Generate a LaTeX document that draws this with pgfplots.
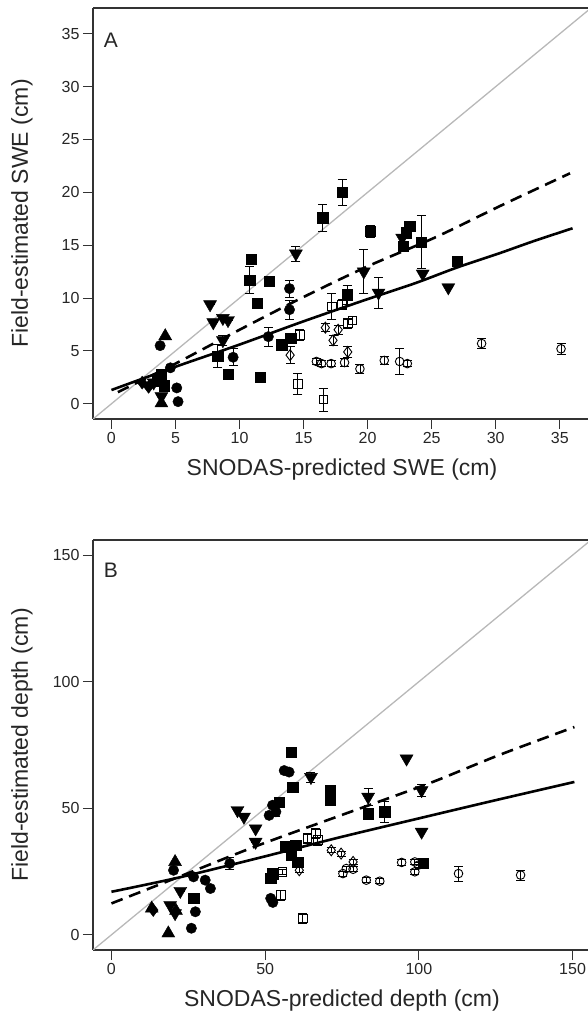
\documentclass[border=0pt]{standalone}
\usepackage{fontspec}
\setmainfont{Liberation Sans}
\usepackage{pgfplots}
\pgfplotsset{compat=1.18}
\usepackage{pgfplotstable}

% ---------- Panel A data ----------
\pgfplotstableread{
x y e
10.9 13.7 0
10.8 11.7 1.3
11.4 9.5 0.4
12.3 11.6 0
11.6 2.5 0
9.1 2.8 0
8.3 4.5 1.1
13.3 5.6 0
14.0 6.2 0
16.5 17.6 1.3
18.0 20.0 1.2
20.2 16.3 0.6
23.3 16.8 0
23.0 16.2 0
22.8 14.9 0.4
24.2 15.3 2.5
27.0 13.5 0
18.4 10.3 0.9
3.9 2.8 0
4.1 1.7 0
3.6 2.2 0
}\fsqA
\pgfplotstableread{
x y e
9.5 4.4 0.8
12.25 6.35 0.9
13.9 8.9 0.9
13.9 10.9 0.8
3.8 5.5 0
4.6 3.4 0
5.1 1.5 0
5.2 0.2 0
}\fciA
\pgfplotstableread{
x y e
7.7 9.4 0
7.95 7.7 0
8.7 8.1 0
9.1 7.9 0
8.7 6.0 0.5
14.4 14.2 0.7
22.7 15.7 0
19.7 12.5 2.1
20.85 10.5 1.5
24.3 12.3 0
26.3 11.0 0
3.9 0.7 0
3.3 2.0 0
}\ftdA
\pgfplotstableread{
x y e
4.2 6.4 0
3.9 0.05 0
3.7 2.4 0
}\ftuA
\pgfplotstableread{
x y e
2.4 2.0 0
2.9 1.6 0
}\fdiA
\pgfplotstableread{
x y e
17.2 9.2 1.2
18.0 9.4 0.5
18.45 7.6 0.5
18.8 7.9 0.4
14.7 6.5 0.5
14.55 1.9 1.0
16.55 0.4 1.1
}\osqA
\pgfplotstableread{
x y e
16.7 7.2 0.4
17.3 6.0 0.5
17.7 7.0 0.4
18.45 4.9 0.5
13.95 4.6 0.8
}\odiA
\pgfplotstableread{
x y e
16.0 4.0 0.3
16.4 3.8 0.3
17.15 3.8 0.3
18.2 3.9 0.4
19.4 3.3 0.4
21.3 4.1 0.4
22.5 4.0 1.2
23.1 3.8 0.3
28.9 5.7 0.5
35.1 5.2 0.5
}\ociA

% ---------- Panel B data ----------
\pgfplotstableread{
x y e
58.4 72.2 0
58.9 58.4 0
71.1 57.1 0
71.1 53.1 0
83.5 47.9 0
88.9 48.6 4.3
56.7 34.8 0
60.0 35.4 0
58.4 31.4 0
60.6 28.8 0
52.4 24.2 0
51.8 22.3 0
101.5 28.2 0
54.5 52.5 0
26.7 14.4 0
}\fsqB
\pgfplotstableread{
x y e
56.2 64.9 0
57.8 64.3 0
52.4 51.2 0
51.3 47.2 0
53.5 48.6 2
51.8 14.4 0
52.5 12.8 0
20.2 25.5 0
26.7 22.9 0
30.5 21.6 0
32.2 18.3 0
27.3 9.1 0
26.0 2.6 0
38.5 28.2 2.5
}\fciB
\pgfplotstableread{
x y e
64.9 62.3 2
96.0 69.6 0
100.9 57.1 2.5
100.9 40.7 0
83.5 54.5 3.5
41.0 49.2 0
43.1 46.6 0
46.9 42.0 0
46.9 36.7 0
22.4 17.3 0
19.1 11.7 0
20.7 8.5 0
}\ftdB
\pgfplotstableread{
x y e
20.7 28.8 0
18.5 0.6 0
21.0 9.5 0
13.1 10.4 0
}\ftuB
\pgfplotstableread{
x y e
13.6 9.8 0
}\fdiB
\pgfplotstableread{
x y e
55.6 24.9 1
55.1 15.7 2
62.2 6.5 2
63.8 38.0 2
66.5 40.0 2
67.1 37.4 2
}\osqB
\pgfplotstableread{
x y e
61.1 25.5 1
71.5 33.4 1
74.7 32.1 1
78.6 28.8 1
}\odiB
\pgfplotstableread{
x y e
76.4 26.2 1
75.3 24.2 1
78.6 25.9 1
82.9 21.6 1
87.3 21.2 1
94.4 28.6 1
98.7 28.8 1
98.7 24.9 1
99.8 27.5 1
112.9 24.2 3
133.1 23.6 2
}\ociB

\pgfplotsset{
  panel/.style={
    scale only axis, width=498pt,
    axis x line*=box, axis y line*=left,
    axis line style={line width=1.1pt, black!80, -},
    tick align=outside, major tick length=10pt,
    tick style={line width=1.1pt, black!80},
    xtick pos=bottom, ytick pos=left,
    ticklabel style={font=\fontsize{16}{18}\selectfont, text=black!85},
    /pgf/number format/assume math mode=true,
    label style={font=\fontsize{23}{26}\selectfont, text=black!85},
    xlabel style={at={(axis description cs:0.5,-0.124)}, anchor=center},
    ylabel style={at={(axis description cs:-0.1426,0.5)}, anchor=center},
  },
  eb/.style={
    /pgfplots/error bars/y dir=both,
    /pgfplots/error bars/y explicit,
    /pgfplots/error bars/error bar style={line width=0.8pt, black},
    /pgfplots/error bars/error mark options={line width=0.8pt, mark size=4.5pt, black, rotate=90},
  },
  fsq/.style={only marks, mark=square*, mark size=5.2pt, mark options={fill=black, draw=black}, eb},
  fci/.style={only marks, mark=*, mark size=5.2pt, mark options={fill=black, draw=black}, eb},
  ftd/.style={only marks, mark=triangle*, mark size=7.5pt, mark options={fill=black, draw=black, rotate=180}, eb},
  ftu/.style={only marks, mark=triangle*, mark size=7.5pt, mark options={fill=black, draw=black}, eb},
  fdi/.style={only marks, mark=diamond*, mark size=6.5pt, mark options={fill=black, draw=black}, eb},
  osq/.style={only marks, mark=square, mark size=4.3pt, mark options={draw=black, line width=0.9pt}, eb},
  odi/.style={only marks, mark=diamond, mark size=5.5pt, mark options={draw=black, line width=0.9pt}, eb},
  oci/.style={only marks, mark=o, mark size=4.3pt, mark options={draw=black, line width=0.9pt}, eb},
}

\begin{document}
\begin{tikzpicture}
% ================= Panel A =================
\begin{axis}[panel, at={(93pt,601pt)}, anchor=south west, height=411pt,
  xmin=-1.44, xmax=37.44, ymin=-1.44, ymax=37.44,
  xtick={0,5,...,35}, ytick={0,5,...,35},
  xlabel={SNODAS-predicted SWE (cm)}, ylabel={Field-estimated SWE (cm)}]
\addplot[color=black!28, line width=1.3pt] coordinates {(-1.44,-1.44) (37.44,37.44)};
\addplot[black, line width=2.6pt, smooth] coordinates {(0,1.3) (5,3.5) (10,5.6) (15,7.8) (20,9.9) (23.7,11.4) (27,12.9) (30.2,14.2) (33,15.4) (36,16.6)};
\addplot[black, line width=2.6pt, dash pattern=on 12pt off 7pt, smooth] coordinates {(0.5,1.1) (5,3.8) (10,7.0) (15,10.1) (20,13.0) (25.3,15.75) (30.5,18.8) (35.8,21.8)};
\addplot[fsq] table[x=x,y=y,y error=e] {\fsqA};
\addplot[fci] table[x=x,y=y,y error=e] {\fciA};
\addplot[ftd] table[x=x,y=y,y error=e] {\ftdA};
\addplot[ftu] table[x=x,y=y,y error=e] {\ftuA};
\addplot[fdi] table[x=x,y=y,y error=e] {\fdiA};
\addplot[osq] table[x=x,y=y,y error=e] {\osqA};
\addplot[odi] table[x=x,y=y,y error=e] {\odiA};
\addplot[oci] table[x=x,y=y,y error=e] {\ociA};
\node[font=\fontsize{21}{24}\selectfont, text=black!85] at (axis description cs:0.036,0.922) {A};
\end{axis}
% ================= Panel B =================
\begin{axis}[panel, at={(93pt,70pt)}, anchor=south west, height=410pt,
  xmin=-6, xmax=156, ymin=-6, ymax=156,
  xtick={0,50,100,150}, ytick={0,50,100,150},
  xlabel={SNODAS-predicted depth (cm)}, ylabel={Field-estimated depth (cm)}]
\addplot[color=black!28, line width=1.3pt] coordinates {(-6,-6) (156,156)};
\addplot[black, line width=2.6pt, smooth] coordinates {(0,17.0) (21.8,22.6) (48,30.4) (74.2,38.5) (100,46.0) (125,53.2) (150.6,60.4)};
\addplot[black, line width=2.6pt, dash pattern=on 12pt off 7pt, smooth] coordinates {(0,12.4) (24,23.9) (47,35) (73,46.5) (92.7,55.1) (105.8,61.0) (126.5,71.2) (150.6,82.1)};
\addplot[fsq] table[x=x,y=y,y error=e] {\fsqB};
\addplot[fci] table[x=x,y=y,y error=e] {\fciB};
\addplot[ftd] table[x=x,y=y,y error=e] {\ftdB};
\addplot[ftu] table[x=x,y=y,y error=e] {\ftuB};
\addplot[fdi] table[x=x,y=y,y error=e] {\fdiB};
\addplot[osq] table[x=x,y=y,y error=e] {\osqB};
\addplot[odi] table[x=x,y=y,y error=e] {\odiB};
\addplot[oci] table[x=x,y=y,y error=e] {\ociB};
\node[font=\fontsize{21}{24}\selectfont, text=black!85] at (axis description cs:0.036,0.927) {B};
\end{axis}
\pgfresetboundingbox
\path[use as bounding box] (0,0) rectangle (587pt,1020pt);
\end{tikzpicture}
\end{document}
